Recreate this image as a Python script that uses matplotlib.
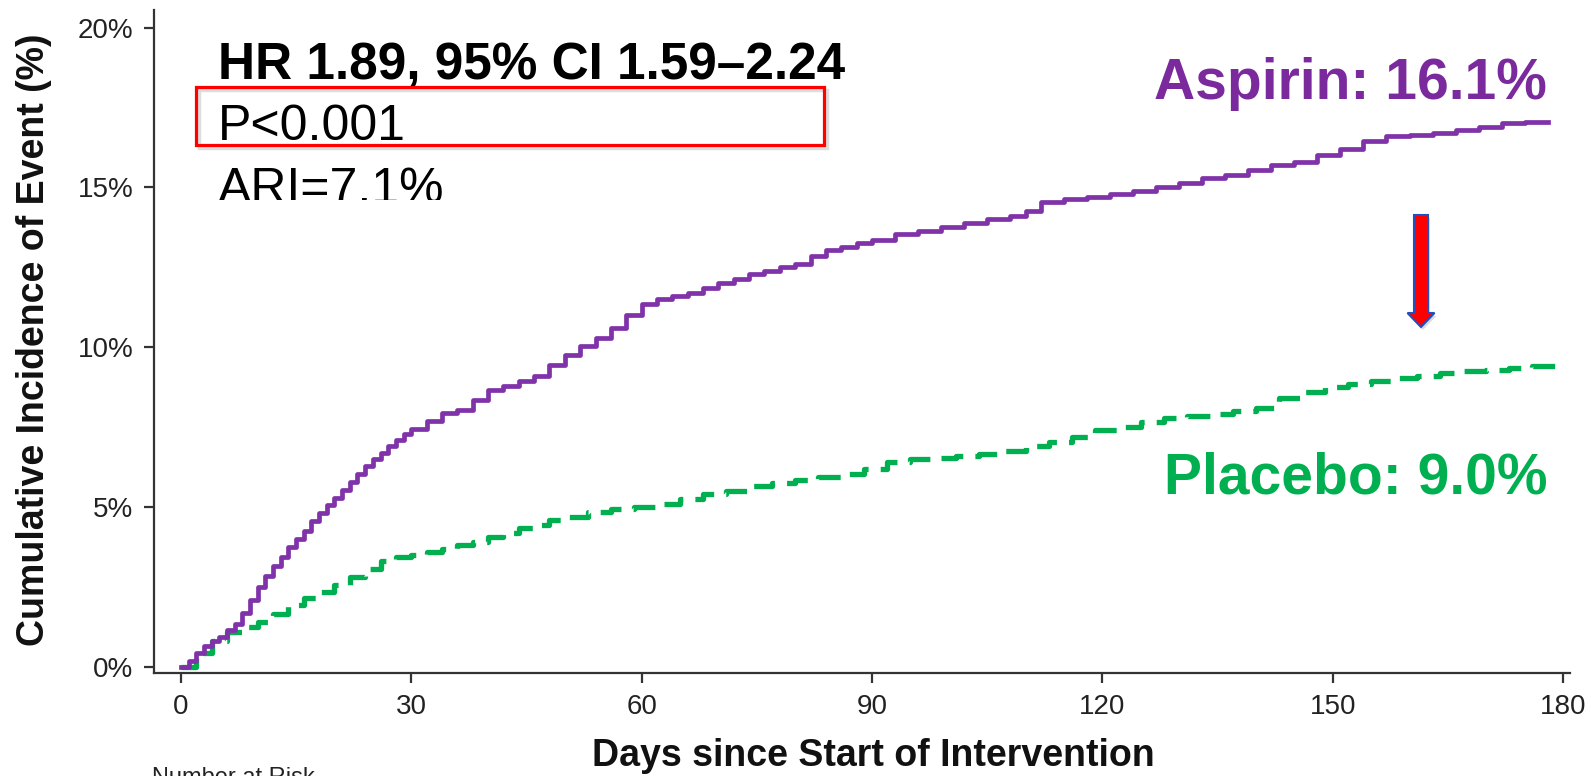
import numpy as np
import matplotlib
matplotlib.use('Agg')
import matplotlib.pyplot as plt
from matplotlib.patches import Rectangle, Polygon

plt.rcParams['font.family'] = ['Liberation Sans', 'DejaVu Sans']

# Kaplan-Meier style cumulative incidence (%)
aspirin_days = [0, 1, 2, 3, 4, 5, 6, 7, 8, 9, 10, 11, 12, 13, 14, 15, 16, 17, 18, 19,
                20, 21, 22, 23, 24, 25, 26, 27, 28, 29, 30, 32, 34, 36, 38, 40, 42, 44,
                46, 48, 50, 52, 54, 56, 58, 60, 62, 64, 66, 68, 70, 72, 74, 76, 78, 80,
                82, 84, 86, 88, 90, 93, 96, 99, 102, 105, 108, 110, 112, 115, 118, 121,
                124, 127, 130, 133, 136, 139, 142, 145, 148, 151, 154, 157, 160, 163,
                166, 169, 172, 175, 178]
aspirin_pct = [0, 0.2, 0.45, 0.65, 0.8, 0.95, 1.15, 1.35, 1.7, 2.1, 2.5, 2.85, 3.15,
               3.45, 3.75, 4.0, 4.25, 4.55, 4.8, 5.05, 5.3, 5.55, 5.8, 6.05, 6.3, 6.5,
               6.7, 6.9, 7.1, 7.3, 7.45, 7.7, 7.95, 8.05, 8.35, 8.65, 8.8, 8.95, 9.1,
               9.45, 9.75, 10.05, 10.3, 10.6, 11.0, 11.35, 11.5, 11.6, 11.7, 11.85, 12.0,
               12.15, 12.3, 12.4, 12.5, 12.6, 12.85, 13.05, 13.15, 13.25, 13.35, 13.55,
               13.65, 13.75, 13.9, 14.0, 14.1, 14.25, 14.55, 14.65, 14.7, 14.8, 14.9,
               15.0, 15.15, 15.3, 15.4, 15.55, 15.7, 15.8, 16.0, 16.2, 16.45, 16.6,
               16.65, 16.7, 16.8, 16.9, 17.0, 17.05, 17.05]

placebo_days = [0, 2, 4, 6, 8, 10, 12, 14, 16, 18, 20, 22, 24, 26, 28, 30, 32, 34, 36,
                38, 40, 42, 44, 46, 48, 50, 53, 56, 59, 62, 65, 68, 71, 74, 77, 80, 83,
                86, 89, 92, 95, 98, 101, 104, 107, 110, 113, 116, 119, 122, 125, 128,
                131, 134, 137, 140, 143, 146, 149, 152, 155, 158, 161, 164, 167, 170,
                173, 176, 179]
placebo_pct = [0, 0.45, 0.8, 1.1, 1.25, 1.4, 1.65, 1.95, 2.15, 2.35, 2.55, 2.8, 3.05,
               3.3, 3.45, 3.5, 3.6, 3.7, 3.8, 3.9, 4.05, 4.2, 4.35, 4.45, 4.6, 4.7, 4.85,
               4.95, 5.0, 5.1, 5.25, 5.4, 5.5, 5.65, 5.75, 5.85, 5.95, 6.05, 6.2, 6.4,
               6.5, 6.55, 6.6, 6.65, 6.75, 6.9, 7.05, 7.2, 7.4, 7.5, 7.65, 7.8, 7.85,
               7.9, 8.0, 8.1, 8.4, 8.6, 8.75, 8.85, 8.95, 9.05, 9.1, 9.2, 9.25, 9.3,
               9.35, 9.4, 9.45]

x_ticks = [0, 30, 60, 90, 120, 150, 180]
y_ticks = [0, 5, 10, 15, 20]

W, H = 1591, 776
purple = '#8032A8'
green = '#00B050'


def fx(px):
    return px / W


def fy(py):
    return 1 - py / H


fig = plt.figure(figsize=(W / 100, H / 100), dpi=100)
ax = fig.add_axes([fx(154), fy(673), fx(1570) - fx(154), fy(10) - fy(673)])

ax.plot(placebo_days, placebo_pct, drawstyle='steps-post', color=green, lw=3.8,
        dashes=(4.5, 2.3), dash_capstyle='butt', zorder=2)
ax.plot(aspirin_days, aspirin_pct, drawstyle='steps-post', color=purple, lw=3.4,
        zorder=3)

ax.set_xlim(-3.5, 180.9)
ax.set_ylim(-0.19, 20.55)
ax.set_xticks(x_ticks)
ax.set_xticklabels([str(t) for t in x_ticks])
ax.set_yticks(y_ticks)
ax.set_yticklabels(['%d%%' % t for t in y_ticks])
for s in ['top', 'right']:
    ax.spines[s].set_visible(False)
for s in ['left', 'bottom']:
    ax.spines[s].set_color('#333333')
    ax.spines[s].set_linewidth(1.6)
ax.tick_params(length=7, width=1.6, color='#333333', labelsize=20,
               labelcolor='#222222', pad=8)

# axis titles
fig.text(fx(34), fy(340), 'Cumulative Incidence of Event (%)', rotation=90,
         ha='center', va='center', fontsize=27, fontweight='bold', color='#111111')
fig.text(fx(873), fy(756), 'Days since Start of Intervention', ha='center',
         va='center', fontsize=27, fontweight='bold', color='#111111')
fig.text(fx(152), fy(767), 'Number at Risk', ha='left', va='top', fontsize=17,
         color='#222222')

# statistics block
fig.text(fx(218), fy(79), 'HR 1.89, 95% CI 1.59\u20132.24', ha='left',
         va='baseline', fontsize=37, fontweight='bold', color='black')
fig.text(fx(218), fy(140), 'P<0.001', ha='left', va='baseline', fontsize=36,
         color='black')
fig.text(fx(218), fy(203), 'ARI=7.1%', ha='left', va='baseline', fontsize=36,
         color='black')
# bottom of ARI line is cut off in the source slide
fig.patches.append(Rectangle((fx(205), fy(215)), fx(470) - fx(205), fy(200) - fy(215),
                             transform=fig.transFigure, facecolor='white',
                             edgecolor='none', zorder=5))
fig.patches.append(Rectangle((fx(199), fy(148)), fx(827) - fx(199), fy(90) - fy(148),
                             transform=fig.transFigure, facecolor='none',
                             edgecolor='#DDDDDD', lw=2.5, zorder=4))
fig.patches.append(Rectangle((fx(196), fy(145)), fx(824) - fx(196), fy(87) - fy(145),
                             transform=fig.transFigure, facecolor='none',
                             edgecolor='#FF0000', lw=2.3, zorder=5))

# group labels
fig.text(fx(1547), fy(99), 'Aspirin: 16.1%', ha='right', va='baseline', fontsize=41,
         fontweight='bold', color='#7B2A9E')
fig.text(fx(1547), fy(494), 'Placebo: 9.0%', ha='right', va='baseline', fontsize=41,
         fontweight='bold', color=green)

# red down arrow between the curves
ax_x, shaft, head = 1421, 7, 13.5
top, neck, tip = 215, 313, 327
pts = [(ax_x - shaft, top), (ax_x + shaft, top), (ax_x + shaft, neck),
       (ax_x + head, neck), (ax_x, tip), (ax_x - head, neck), (ax_x - shaft, neck)]
shadow = Polygon([(fx(x + 2), fy(y + 3)) for x, y in pts], closed=True,
                 transform=fig.transFigure, facecolor='#BBBBBB', edgecolor='none',
                 alpha=0.5, zorder=4)
arrow = Polygon([(fx(x), fy(y)) for x, y in pts], closed=True,
                transform=fig.transFigure, facecolor='#FF0000', edgecolor='#1F4FC0',
                lw=1.5, zorder=5)
fig.patches.append(shadow)
fig.patches.append(arrow)

fig.savefig('out.png', dpi=100)
